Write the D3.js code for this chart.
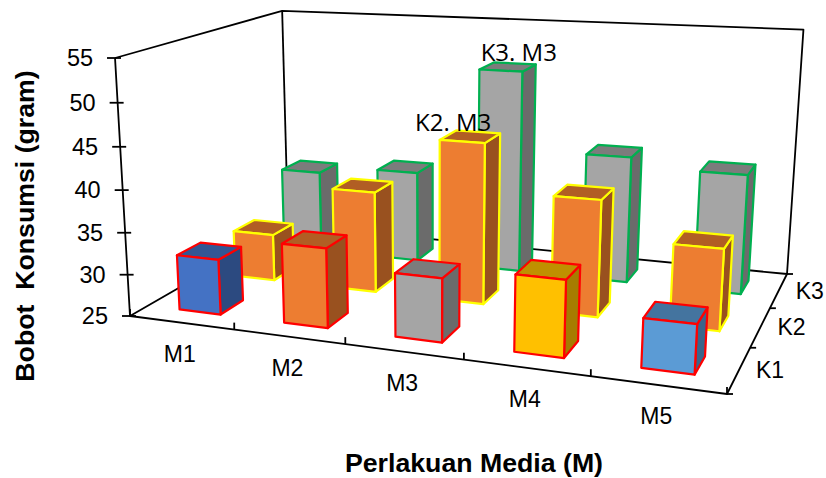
<!DOCTYPE html>
<html>
<head>
<meta charset="utf-8">
<script src="https://cdnjs.cloudflare.com/ajax/libs/d3/7.8.5/d3.min.js"></script>
<style>
  html, body { margin: 0; padding: 0; background: #fff; }
  svg { display: block; }
  text { font-family: "Liberation Sans", Arial, sans-serif; fill: #000; white-space: pre; }
  .note { font-family: "Open Sans", sans-serif; }
</style>
</head>
<body>
<svg id="chart" width="826" height="478"></svg>
<script>
// Consumption weight by growing medium (M) and treatment level (K)
const media = ["M1", "M2", "M3", "M4", "M5"];
const levels = ["K1", "K2", "K3"];
const valuesK1 = [31.6, 34.3, 32.3, 33.6, 30.4];
const valuesK2 = [30.8, 37.3, 44.2, 38.7, 34.4];
const valuesK3 = [35.5, 36.5, 50.1, 40.5, 39.4];
const yTicks = [25, 30, 35, 40, 45, 50, 55];

// Face colours per bar: front, side, top
const facesK1 = [
  ["#4472c4", "#2c4a80", "#335694"],
  ["#ed7d31", "#99511f", "#b15e24"],
  ["#a5a5a5", "#6b6b6b", "#7c7c7c"],
  ["#ffc000", "#a67c00", "#bf9000"],
  ["#5b9bd5", "#3b658a", "#44749f"]
];
const facesK2 = ["#ed7d31", "#99511f", "#b15e24"];
const facesK3 = ["#a5a5a5", "#6b6b6b", "#7c7c7c"];
const edgeColours = { K1: "#ff0000", K2: "#ffff00", K3: "#00b050" };

// Value and band scales work in unit box coordinates
const u = d3.scaleBand().domain(media).range([0.002, 1.002]).paddingInner(0.6).paddingOuter(0.3);
const v = d3.scaleBand().domain(levels).range([-0.002, 0.998]).paddingInner(0.6).paddingOuter(0.3);
const h = d3.scaleLinear().domain([25, 55]).range([0, 1]);

// Perspective camera: floor corners of the box and the vertical vanishing point
const floor = { p00: [130, 316], p10: [727, 394], p11: [787, 274], p01: [288, 225] };
const vanish = [433, 5537];
const frontLeftTopY = 58;

function squareToQuad(q) {
  const [x0, y0] = q.p00, [x1, y1] = q.p10, [x2, y2] = q.p11, [x3, y3] = q.p01;
  const dx1 = x1 - x2, dx2 = x3 - x2, sx = x0 - x1 + x2 - x3;
  const dy1 = y1 - y2, dy2 = y3 - y2, sy = y0 - y1 + y2 - y3;
  const den = dx1 * dy2 - dx2 * dy1;
  const g = (sx * dy2 - dx2 * sy) / den;
  const k = (dx1 * sy - sx * dy1) / den;
  return [x1 - x0 + g * x1, x3 - x0 + k * x3, x0,
          y1 - y0 + g * y1, y3 - y0 + k * y3, y0,
          g, k, 1];
}
const H = squareToQuad(floor);
const lift = (frontLeftTopY * H[8] - H[5]) / (vanish[1] - frontLeftTopY);

function project(a, b, c) {
  const X = H[0] * a + H[1] * b + H[2] + c * lift * vanish[0];
  const Y = H[3] * a + H[4] * b + H[5] + c * lift * vanish[1];
  const W = H[6] * a + H[7] * b + H[8] + c * lift;
  return [X / W, Y / W];
}

const svg = d3.select("#chart");
const line = d3.line();
const strokeBlack = 1.8;

// Box frame
const frame = svg.append("g").attr("fill", "none").attr("stroke", "#000")
  .attr("stroke-width", strokeBlack).attr("stroke-linejoin", "round");
const framePaths = [
  [project(0, 0, 1), project(0, 1, 1), project(1, 1, 1), project(1, 1, 0)],
  [project(0, 1, 1), project(0, 1, 0)],
  [project(0, 0, 1), project(0, 0, 0), project(1, 0, 0), project(1, 1, 0), project(0, 1, 0), project(0, 0, 0)]
];
frame.selectAll("path").data(framePaths).join("path").attr("d", line);

// Value axis ticks and labels
yTicks.forEach(t => {
  const [x, y] = project(0, 0, h(t));
  frame.append("path").attr("d", line([[x - 8, y], [x + 6, y]]));
  svg.append("text").attr("x", x - 22).attr("y", y + 8)
    .attr("text-anchor", "end").attr("font-size", 23.5).text(t);
});

// Medium axis ticks and labels
d3.range(media.length + 1).forEach(i => {
  const [x, y] = project(i / media.length, 0, 0);
  frame.append("path").attr("d", line([[x, y], [x, y - 7]]));
});
media.forEach((m, i) => {
  const [x, y] = project((i + 0.5) / media.length, 0, 0);
  svg.append("text").attr("x", x - 1.5).attr("y", y + 39)
    .attr("text-anchor", "middle").attr("font-size", 23).text(m);
});

// Level axis ticks and labels
d3.range(levels.length + 1).forEach(i => {
  const [x, y] = project(1, i / levels.length, 0);
  frame.append("path").attr("d", line([[x, y], [x + 6, y]]));
});
levels.forEach((k, i) => {
  const [x, y] = project(1, (i + 0.5) / levels.length, 0);
  svg.append("text").attr("x", x + 17).attr("y", y + 8)
    .attr("font-size", 23).text(k);
});

// Bars, back row first so the front rows overlap them
function addBar(g, m, k, value, colours) {
  const a0 = u(m), a1 = a0 + u.bandwidth();
  const b0 = v(k), b1 = b0 + v.bandwidth();
  const c = h(value);
  const faces = [
    { fill: colours[1], pts: [[a1, b0, 0], [a1, b1, 0], [a1, b1, c], [a1, b0, c]] },
    { fill: colours[2], pts: [[a0, b0, c], [a1, b0, c], [a1, b1, c], [a0, b1, c]] },
    { fill: colours[0], pts: [[a0, b0, 0], [a1, b0, 0], [a1, b0, c], [a0, b0, c]] }
  ];
  g.selectAll(null).data(faces).join("path")
    .attr("d", d => line(d.pts.map(p => project(...p))) + "Z")
    .attr("fill", d => d.fill)
    .attr("stroke", edgeColours[k])
    .attr("stroke-width", 2.2)
    .attr("stroke-linejoin", "round");
}
const bars = svg.append("g");
media.forEach((m, i) => addBar(bars.append("g"), m, "K3", valuesK3[i], facesK3));
media.forEach((m, i) => addBar(bars.append("g"), m, "K2", valuesK2[i], facesK2));
media.forEach((m, i) => addBar(bars.append("g"), m, "K1", valuesK1[i], facesK1[i]));

// Point labels on the two tallest bars
function note(m, k, value, text, dx, dy) {
  const [x, y] = project(u(m) + u.bandwidth() * 0.5, v(k) + v.bandwidth() * 0.5, h(value));
  svg.append("text").attr("class", "note").attr("x", x + dx).attr("y", y + dy)
    .attr("text-anchor", "middle").attr("font-size", 24).text(text);
}
note("M3", "K3", valuesK3[2], "K3. M3", 11, -6);
note("M3", "K2", valuesK2[2], "K2. M3", -17, -6);

// Axis titles
svg.append("text").attr("x", 474).attr("y", 472).attr("text-anchor", "middle")
  .attr("font-size", 26.7).attr("font-weight", "bold").text("Perlakuan Media (M)");
svg.append("text").attr("transform", "translate(34,226) rotate(-90)")
  .attr("text-anchor", "middle").attr("font-size", 26.7).attr("font-weight", "bold")
  .text("Bobot  Konsumsi (gram)");
</script>
</body>
</html>
